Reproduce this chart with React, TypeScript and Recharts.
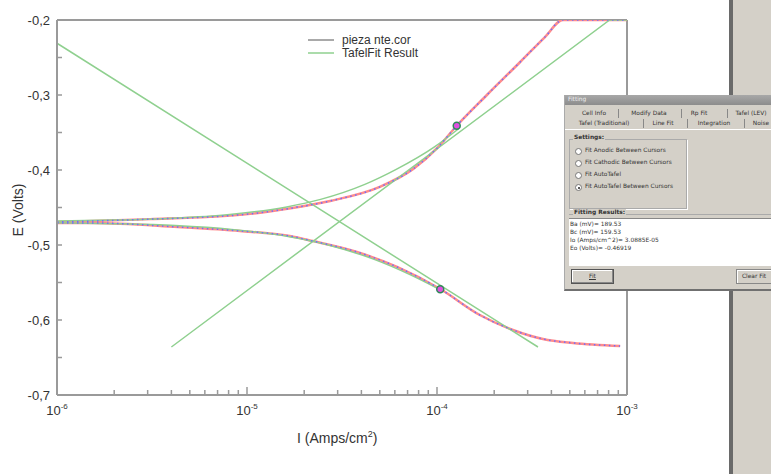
import { ComposedChart, Line, XAxis, YAxis, ReferenceLine, ReferenceDot } from 'recharts';

// measured curve (pieza nte.cor), anodic and cathodic branches
const anodicI = [1e-6, 1.55e-6, 3.1e-6, 6.4e-6, 1.04e-5, 1.7e-5, 2.74e-5, 5.0e-5, 7.5e-5, 1.0e-4, 1.27e-4, 1.83e-4, 2.74e-4, 3.7e-4, 4.6e-4, 1e-3];
const anodicE = [-0.4693, -0.468, -0.4655, -0.4625, -0.4585, -0.451, -0.4413, -0.4225, -0.3985, -0.371, -0.341, -0.3, -0.256, -0.2227, -0.2, -0.2];
const cathodicI = [1e-6, 1.55e-6, 4.33e-6, 9.18e-6, 1.68e-5, 2.22e-5, 3.79e-5, 6.16e-5, 1.04e-4, 1.68e-4, 2.51e-4, 3.61e-4, 5.2e-4, 9.2e-4];
const cathodicE = [-0.4707, -0.4707, -0.476, -0.4813, -0.488, -0.4947, -0.5093, -0.5293, -0.5587, -0.5933, -0.6133, -0.6253, -0.6307, -0.6347];

// TafelFit result: fitted curves and Tafel lines
const fitAnodicI = [1e-6, 2e-6, 4.1e-6, 8.1e-6, 1.62e-5, 2.44e-5, 4.17e-5, 6.1e-5, 9.7e-5, 1.3e-4];
const fitAnodicE = [-0.468, -0.4668, -0.4642, -0.4592, -0.4492, -0.4392, -0.4192, -0.3992, -0.3692, -0.345];
const fitCathodicI = [1e-6, 2e-6, 4.2e-6, 8.3e-6, 1.7e-5, 2.62e-5, 4.67e-5, 7.16e-5, 1.03e-4];
const fitCathodicE = [-0.4704, -0.4716, -0.4741, -0.4792, -0.4892, -0.4992, -0.5192, -0.5392, -0.5592];
const tafelAnodicI = [4e-6, 8.1e-4, 1e-3];
const tafelAnodicE = [-0.636, -0.2, -0.2];
const tafelCathodicI = [1e-6, 1e-6, 3.4e-4];
const tafelCathodicE = [-0.2, -0.231, -0.636];

// cursors
const cursorI = [1.27e-4, 1.04e-4];
const cursorE = [-0.341, -0.559];

const xTicks = [
  1e-6, 2e-6, 3e-6, 4e-6, 5e-6, 6e-6, 7e-6, 8e-6, 9e-6,
  1e-5, 2e-5, 3e-5, 4e-5, 5e-5, 6e-5, 7e-5, 8e-5, 9e-5,
  1e-4, 2e-4, 3e-4, 4e-4, 5e-4, 6e-4, 7e-4, 8e-4, 9e-4, 1e-3,
];
const yTicks = [-0.7, -0.65, -0.6, -0.55, -0.5, -0.45, -0.4, -0.35, -0.3, -0.25, -0.2];

const fitResults = ['Ba (mV)= 189.53', 'Bc (mV)= 159.53', 'Io (Amps/cm^2)= 3.0885E-05', 'Eo (Volts)= -0.46919'];
const tabsRow1 = ['Cell Info', 'Modify Data', 'Rp Fit', 'Tafel (LEV)'];
const tabsRow2 = ['Tafel (Traditional)', 'Line Fit', 'Integration', 'Noise'];
const options = ['Fit Anodic Between Cursors', 'Fit Cathodic Between Cursors', 'Fit AutoTafel', 'Fit AutoTafel Between Cursors'];

const zip = (xs: number[], ys: number[]) => xs.map((I, i) => ({ I, E: ys[i] }));

const AXIS = '#9a9a9a';
const GREEN = '#8fd08f';
const FONT = '"Liberation Sans", Arial, sans-serif';
const UI_FONT = '"DejaVu Sans", sans-serif';

const XTick = (props: any) => {
  const { x, y, payload } = props;
  const lg = Math.log10(payload.value);
  const exp = Math.round(lg);
  const major = Math.abs(lg - exp) < 1e-6;
  return (
    <g>
      <line x1={x} x2={x} y1={y} y2={y - (major ? 8 : 5)} stroke={AXIS} strokeWidth={1.5} />
      {major && (
        <text x={x} y={y + 20} textAnchor="middle" fill="#333" fontSize={13} fontFamily={FONT}>
          10
          <tspan dy={-6} fontSize={8}>
            {exp}
          </tspan>
        </text>
      )}
    </g>
  );
};

const YTick = (props: any) => {
  const { x, y, payload } = props;
  const v = payload.value as number;
  const major = Math.abs(v * 10 - Math.round(v * 10)) < 1e-6;
  return (
    <g>
      <line x1={x} x2={x + 5} y1={y} y2={y} stroke={AXIS} strokeWidth={1.5} />
      {major && (
        <text x={x - 7} y={y + 5} textAnchor="end" fill="#333" fontSize={13} fontFamily={FONT}>
          {v.toFixed(1).replace('.', ',')}
        </text>
      )}
    </g>
  );
};

function Dialog() {
  const small = { fontFamily: UI_FONT, fontSize: 5.9, color: '#333', position: 'absolute' as const, whiteSpace: 'nowrap' as const };
  const row1X = [593, 648, 698, 750];
  const row2X = [603, 662, 713, 760];
  const sep1 = [617, 680, 726];
  const sep2 = [642, 686, 743];
  return (
    <div style={{ position: 'absolute', left: 564, top: 95, width: 207, height: 194, background: '#d4d0c8', borderBottom: '2px solid #707070', borderLeft: '1px solid #aaa', overflow: 'hidden' }}>
      <div style={{ position: 'absolute', left: 0, top: 0, width: 207, height: 10, background: 'linear-gradient(#a8a8a8, #8c8c8c)' }}>
        <span style={{ ...small, left: 3, top: 1, color: '#eee' }}>Fitting</span>
      </div>
      {tabsRow1.map((t, i) => (
        <span key={t} style={{ ...small, left: row1X[i] - 564, top: 15, transform: 'translateX(-50%)' }}>{t}</span>
      ))}
      {sep1.map((s) => (
        <div key={s} style={{ position: 'absolute', left: s - 564, top: 14, width: 1, height: 9, background: '#888' }} />
      ))}
      {tabsRow2.map((t, i) => (
        <span key={t} style={{ ...small, left: row2X[i] - 564, top: 25, transform: 'translateX(-50%)' }}>{t}</span>
      ))}
      {sep2.map((s) => (
        <div key={s} style={{ position: 'absolute', left: s - 564, top: 24, width: 1, height: 9, background: '#888' }} />
      ))}
      <div style={{ position: 'absolute', left: 0, top: 34, width: 207, height: 1, background: '#fff' }} />
      <div style={{ position: 'absolute', left: 4, top: 44, width: 116, height: 68, border: '1px solid #aaa', boxShadow: '1px 1px 0 #fff' }} />
      <span style={{ ...small, left: 8, top: 39, fontWeight: 'bold', background: '#d4d0c8', padding: '0 1px' }}>Settings:</span>
      {options.map((o, i) => (
        <div key={o}>
          <div style={{ position: 'absolute', left: 10, top: 53 + i * 12, width: 5, height: 5, borderRadius: 4, border: '1px solid #777', background: '#fff' }}>
            {i === 3 && <div style={{ position: 'absolute', left: 1.5, top: 1.5, width: 2, height: 2, borderRadius: 2, background: '#222' }} />}
          </div>
          <span style={{ ...small, left: 20, top: 52 + i * 12 }}>{o}</span>
        </div>
      ))}
      <div style={{ position: 'absolute', left: 4, top: 119, width: 203, height: 1, background: '#aaa' }} />
      <span style={{ ...small, left: 8, top: 114, fontWeight: 'bold', background: '#d4d0c8', padding: '0 1px' }}>Fitting Results:</span>
      <div style={{ position: 'absolute', left: 4, top: 123, width: 203, height: 47, background: '#fff', borderTop: '1px solid #888' }}>
        {fitResults.map((r, i) => (
          <span key={r} style={{ ...small, left: 1, top: 2 + i * 8 }}>{r}</span>
        ))}
      </div>
      <div style={{ position: 'absolute', left: 6, top: 174, width: 41, height: 13, border: '1px solid #555', boxShadow: 'inset -1px -1px 0 #888, inset 1px 1px 0 #fff' }}>
        <span style={{ ...small, left: 17, top: 3, textDecoration: 'underline' }}>Fit</span>
      </div>
      <div style={{ position: 'absolute', left: 171, top: 174, width: 40, height: 13, border: '1px solid #888', boxShadow: 'inset 1px 1px 0 #fff' }}>
        <span style={{ ...small, left: 5, top: 3 }}>Clear Fit</span>
      </div>
    </div>
  );
}

export default function App() {
  return (
    <div style={{ position: 'absolute', left: 0, top: 0, width: 771, height: 474, background: '#fff', overflow: 'hidden' }}>
      <ComposedChart width={771} height={474} margin={{ top: 20, right: 144, bottom: 0, left: 0 }}>
        <XAxis
          dataKey="I"
          type="number"
          scale="log"
          domain={[1e-6, 1e-3]}
          allowDataOverflow
          ticks={xTicks}
          interval={0}
          tick={<XTick />}
          tickSize={0}
          tickMargin={0}
          height={79}
          axisLine={{ stroke: AXIS, strokeWidth: 2 }}
        />
        <YAxis
          dataKey="E"
          type="number"
          domain={[-0.7, -0.2]}
          allowDataOverflow
          ticks={yTicks}
          interval={0}
          tick={<YTick />}
          tickSize={0}
          tickMargin={0}
          width={57}
          axisLine={{ stroke: AXIS, strokeWidth: 2 }}
        />
        <ReferenceLine y={-0.2} stroke={AXIS} strokeWidth={2} />
        <ReferenceLine x={1e-3} stroke={AXIS} strokeWidth={2} />

        <Line data={zip(anodicI, anodicE)} dataKey="E" type="monotone" stroke="#ff8c8c" strokeWidth={2.5} dot={false} isAnimationActive={false} />
        <Line data={zip(cathodicI, cathodicE)} dataKey="E" type="monotone" stroke="#ff8c8c" strokeWidth={2.5} dot={false} isAnimationActive={false} />

        <Line data={zip(fitAnodicI, fitAnodicE)} dataKey="E" type="monotone" stroke={GREEN} strokeWidth={1.5} dot={false} isAnimationActive={false} />
        <Line data={zip(fitCathodicI, fitCathodicE)} dataKey="E" type="monotone" stroke={GREEN} strokeWidth={1.5} dot={false} isAnimationActive={false} />
        <Line data={zip(tafelAnodicI, tafelAnodicE)} dataKey="E" stroke={GREEN} strokeWidth={1.5} dot={false} isAnimationActive={false} />
        <Line data={zip(tafelCathodicI, tafelCathodicE)} dataKey="E" stroke={GREEN} strokeWidth={1.5} dot={false} isAnimationActive={false} />

        <Line data={zip(anodicI, anodicE)} dataKey="E" type="monotone" stroke="#6e6eff" strokeWidth={1.5} strokeDasharray="1.5 3.5" dot={false} isAnimationActive={false} />
        <Line data={zip(cathodicI, cathodicE)} dataKey="E" type="monotone" stroke="#6e6eff" strokeWidth={1.5} strokeDasharray="1.5 3.5" dot={false} isAnimationActive={false} />

        {cursorI.map((I, i) => (
          <ReferenceDot key={i} x={I} y={cursorE[i]} r={3.5} fill="#e050e0" stroke="#2e8b57" strokeWidth={1.5} />
        ))}
      </ComposedChart>

      {/* legend */}
      <svg style={{ position: 'absolute', left: 300, top: 30 }} width={130} height={32}>
        <line x1={8} x2={34} y1={10} y2={10} stroke="#555" strokeWidth={1} />
        <line x1={8} x2={34} y1={23} y2={23} stroke={GREEN} strokeWidth={1.5} />
        <text x={42} y={14} fontSize={12} fill="#333" fontFamily={FONT}>pieza nte.cor</text>
        <text x={42} y={27} fontSize={12} fill="#333" fontFamily={FONT}>TafelFit Result</text>
      </svg>

      {/* axis titles */}
      <div style={{ position: 'absolute', left: 297, top: 429, fontFamily: FONT, fontSize: 14, color: '#333', whiteSpace: 'nowrap' }}>
        I (Amps/cm<sup style={{ fontSize: 9 }}>2</sup>)
      </div>
      <div style={{ position: 'absolute', left: 18, top: 210, fontFamily: FONT, fontSize: 14, color: '#333', whiteSpace: 'nowrap', transform: 'translate(-50%, -50%) rotate(-90deg)' }}>
        E (Volts)
      </div>

      {/* window panel on the right */}
      <div style={{ position: 'absolute', left: 729, top: 0, width: 4, height: 474, background: '#6a6a6a' }} />
      <div style={{ position: 'absolute', left: 733, top: 0, width: 38, height: 474, background: '#d4d0c8' }} />
      <Dialog />
    </div>
  );
}
